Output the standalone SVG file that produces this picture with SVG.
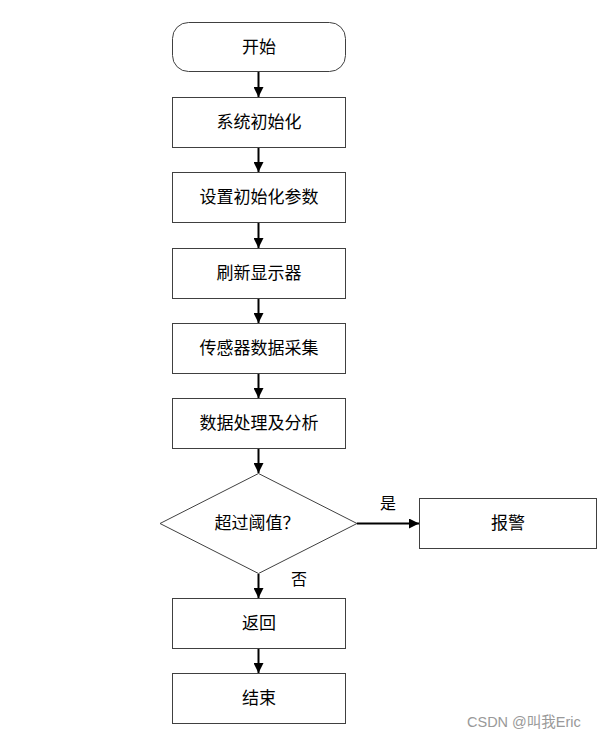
<svg xmlns="http://www.w3.org/2000/svg" width="600" height="740" viewBox="0 0 600 740">
<style>
.n{fill:#fff;stroke:#404040;stroke-width:1}
.t{font-family:"Noto Sans CJK SC","Liberation Sans",sans-serif;font-size:17px;fill:#000;text-anchor:middle;dominant-baseline:central}
.c{stroke:#000;stroke-width:2;fill:none;marker-end:url(#a)}
.l{font-family:"Noto Sans CJK SC",sans-serif;font-size:16px;fill:#000}
.w{font-family:"Liberation Sans","Noto Sans CJK SC",sans-serif;font-size:14.5px;fill:#999}
</style>
<defs>
<marker id="a" viewBox="0 0 10 10" refX="10" refY="5" markerWidth="10" markerHeight="10" markerUnits="userSpaceOnUse" orient="auto">
<path d="M0,0 L10,5 L0,10 Z" fill="#000"/>
</marker>
</defs>
<rect width="600" height="740" fill="#fff"/>
<g id="start"><rect class="n" x="172.5" y="22.5" width="173" height="49" rx="16"/><text class="t" x="259" y="45">开始</text></g>
<g id="init"><rect class="n" x="172.5" y="97.5" width="173" height="50"/><text class="t" x="259" y="120">系统初始化</text></g>
<g id="params"><rect class="n" x="172.5" y="172.5" width="173" height="50"/><text class="t" x="259" y="195">设置初始化参数</text></g>
<g id="refresh"><rect class="n" x="172.5" y="248.5" width="173" height="50"/><text class="t" x="259" y="271">刷新显示器</text></g>
<g id="collect"><rect class="n" x="172.5" y="323.5" width="173" height="50"/><text class="t" x="259" y="346">传感器数据采集</text></g>
<g id="process"><rect class="n" x="172.5" y="398.5" width="173" height="50"/><text class="t" x="259" y="421">数据处理及分析</text></g>
<g id="decision"><polygon class="n" points="258.5,473.5 357,523.5 258.5,573.5 160,523.5"/><text class="t" x="257" y="521">超过阈值？</text></g>
<g id="alarm"><rect class="n" x="419.5" y="498.5" width="177" height="50"/><text class="t" x="508" y="521">报警</text></g>
<g id="return"><rect class="n" x="172.5" y="598.5" width="173" height="50"/><text class="t" x="259" y="621">返回</text></g>
<g id="end"><rect class="n" x="172.5" y="673.5" width="173" height="50"/><text class="t" x="259" y="696">结束</text></g>
<g id="connectors">
<line class="c" x1="258.5" y1="72" x2="258.5" y2="97"/>
<line class="c" x1="258.5" y1="148" x2="258.5" y2="172"/>
<line class="c" x1="258.5" y1="223" x2="258.5" y2="248"/>
<line class="c" x1="258.5" y1="299" x2="258.5" y2="323"/>
<line class="c" x1="258.5" y1="374" x2="258.5" y2="398"/>
<line class="c" x1="258.5" y1="449" x2="258.5" y2="473"/>
<line class="c" x1="357" y1="523.5" x2="419" y2="523.5"/>
<line class="c" x1="258.5" y1="574" x2="258.5" y2="598"/>
<line class="c" x1="258.5" y1="649" x2="258.5" y2="673"/>
<text class="l" x="380" y="509">是</text>
<text class="l" x="291" y="585">否</text>
</g>
<text class="w" x="467" y="727">CSDN @叫我Eric</text>
</svg>
